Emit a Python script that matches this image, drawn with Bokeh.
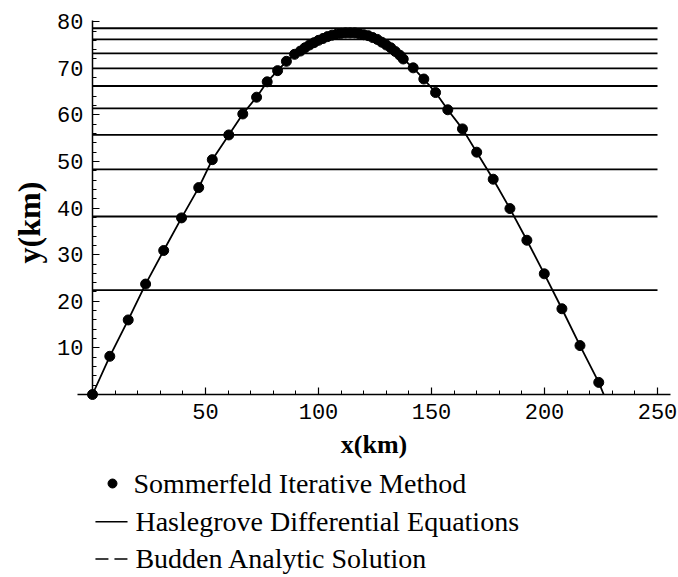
import math
from bokeh.plotting import figure
from bokeh.models import FixedTicker, Range1d
from bokeh.core.properties import value
from bokeh.embed import file_html
from bokeh.resources import INLINE

# ---------------- data ----------------
sommerfeld_x = [0, 7.65, 15.8, 23.5, 31.5, 39.4, 47.0, 53.0, 60.3, 66.5, 72.6, 77.3, 81.9, 85.8, 89.4,
                92, 94, 96, 98, 100, 102, 104, 106, 108, 110, 112, 114, 116, 118, 120, 122, 124,
                126, 128, 130, 132, 134, 136,
                137.5, 141.9, 146.6, 151.8, 157.2, 163.7, 170.0, 177.3, 184.7, 192.2, 199.9,
                207.7, 215.7, 224.0]
sommerfeld_y = [0, 8.2, 16.0, 23.7, 30.9, 37.9, 44.4, 50.4, 55.7, 60.2, 63.8, 67.1, 69.5, 71.5, 73.0,
                73.7, 74.4, 75.0, 75.5, 76.0, 76.4, 76.8, 77.1, 77.3, 77.5, 77.6, 77.6, 77.6, 77.4,
                77.2, 77.0, 76.6, 76.2, 75.6, 75.0, 74.4, 73.6, 72.8,
                72.0, 70.1, 67.7, 64.8, 61.1, 57.0, 52.0, 46.2, 39.9, 33.1, 25.9, 18.4, 10.5, 2.6]
haslegrove_x = sommerfeld_x + [226.2]
haslegrove_y = sommerfeld_y + [0.0]

layer_heights = [22.4, 38.2, 48.3, 55.7, 61.4, 66.2, 70.0, 73.2, 76.2, 78.6]
layer_x_start = 0
layer_x_end = 250

x_ticks = [50, 100, 150, 200, 250]
x_minor_ticks = [v for v in range(10, 260, 10) if v % 50 != 0]
y_ticks = [10, 20, 30, 40, 50, 60, 70, 80]
y_minor_ticks = [v for v in range(2, 81, 2) if v % 10 != 0]

x_title = "x(km)"
y_title = "y(km)"
legend_labels = ["Sommerfeld Iterative Method",
                 "Haslegrove Differential Equations",
                 "Budden Analytic Solution"]

# ---------------- figure ----------------
p = figure(width=678, height=577,
           x_range=Range1d(-40.71, 259.29), y_range=Range1d(-39.27, 84.55),
           output_backend="svg", toolbar_location=None, min_border=0)
p.outline_line_color = None
p.grid.visible = False
p.background_fill_color = "white"
p.border_fill_color = "white"

# axes crossing at the origin
xa = p.xaxis[0]
ya = p.yaxis[0]
xa.fixed_location = 0
ya.fixed_location = 0
xa.bounds = (-6.6, 255.75)
ya.bounds = (0, 80.2)
xa.ticker = FixedTicker(ticks=x_ticks, minor_ticks=x_minor_ticks)
ya.ticker = FixedTicker(ticks=y_ticks, minor_ticks=y_minor_ticks)
for ax in (xa, ya):
    ax.axis_line_color = "black"
    ax.axis_line_width = 1.5
    ax.major_tick_in = 7
    ax.major_tick_out = 0
    ax.minor_tick_in = 4
    ax.minor_tick_out = 0
    ax.major_tick_line_color = "black"
    ax.minor_tick_line_color = "black"
    ax.major_tick_line_width = 1.2
    ax.minor_tick_line_width = 1
    ax.major_label_text_font = "Liberation Mono"
    ax.major_label_text_font_size = "22px"
    ax.major_label_text_color = "black"
xa.major_label_standoff = 9
ya.major_label_standoff = 9
xa.axis_label = x_title
xa.axis_label_text_font = "Liberation Serif"
xa.axis_label_text_font_style = "bold"
xa.axis_label_text_font_size = "26px"
xa.axis_label_text_color = "black"
xa.axis_label_standoff = 8

# y title as rotated text
p.text(x=[-27.9], y=[36.9], text=[y_title], angle=math.pi / 2,
       text_align="center", text_baseline="middle",
       text_font=value("Liberation Serif"), text_font_style="bold",
       text_font_size="32px", text_color="black")

# layer lines
n = len(layer_heights)
p.segment(x0=[layer_x_start] * n, x1=[layer_x_end] * n, y0=layer_heights, y1=layer_heights,
          line_color="black", line_width=1.8)

# ray path and iterative points
p.line(haslegrove_x, haslegrove_y, line_color="black", line_width=1.8)
p.scatter(sommerfeld_x, sommerfeld_y, size=10, color="black")

# legend (below the plot)
leg_y = [-19.1, -27.3, -35.3]
p.scatter([8.85], [leg_y[0]], size=9, color="black")
p.line([1.3, 15.5], [leg_y[1], leg_y[1]], line_color="black", line_width=1.5)
p.line([1.3, 16.8], [leg_y[2], leg_y[2]], line_color="black", line_width=1.5, line_dash="13 6")
p.text(x=[18.1, 19.0, 19.0], y=leg_y, text=legend_labels,
       text_align="left", text_baseline="middle",
       text_font=value("Liberation Serif"), text_font_size="28px", text_color="black")

open("out.html", "w").write(file_html(p, INLINE))
